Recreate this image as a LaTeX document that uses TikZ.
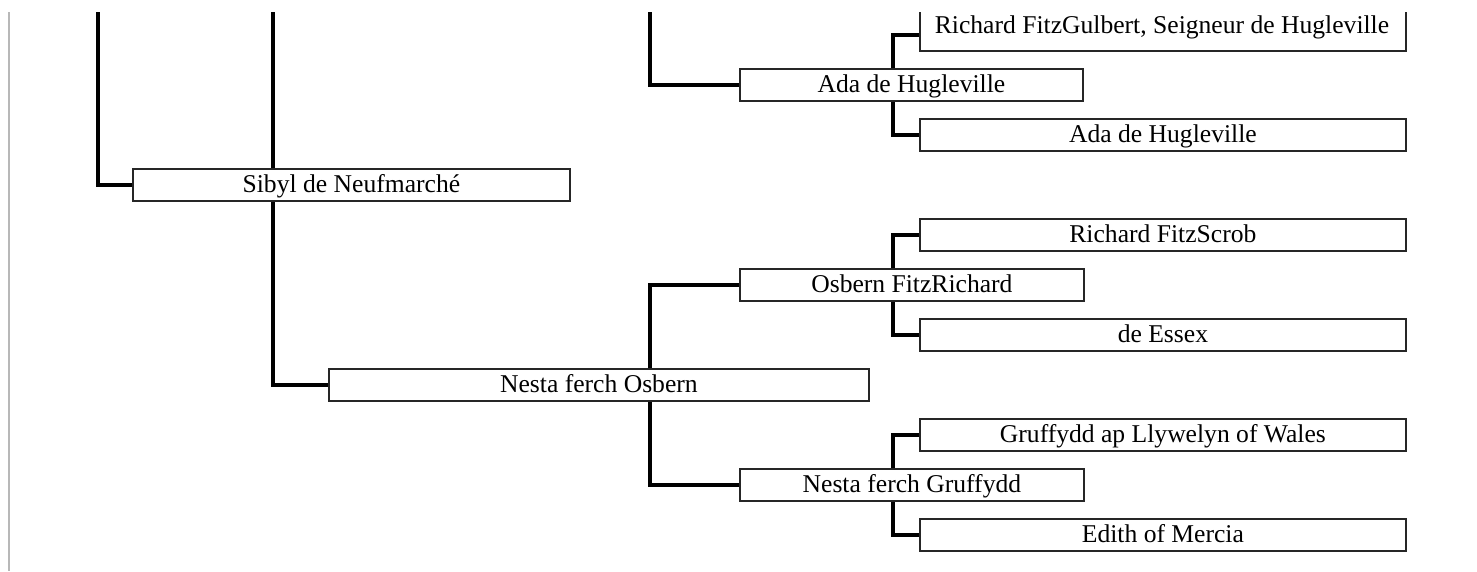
\documentclass[tikz,border=0pt]{standalone}
\usepackage{fontspec}
\setmainfont{Liberation Serif}
\begin{document}
\begin{tikzpicture}[x=1pt,y=-1pt,
  box/.style={draw=black!85, line width=1.8pt, fill=white, rectangle, inner sep=0pt,
    minimum height=32pt, text height=17pt, text depth=3pt,
    font=\fontsize{25.6}{30}\selectfont, anchor=west},
  lbl/.style={inner sep=0pt, font=\fontsize{25.6}{30}\selectfont, anchor=base},
  conn/.style={line width=3.4pt, black}]
\useasboundingbox (0,0) rectangle (1477,571);
\clip (0,12) rectangle (1477,571);
\draw[line width=2pt, black!28] (9,12) -- (9,571);
% free ends of connectors going off the top
\coordinate (t98) at (98,0);
\coordinate (t273) at (273,0);
\coordinate (t650) at (650,0);
\coordinate (c893) at (893,0);
% boxes
\node[box, minimum width=437pt] (sibyl) at (132,185) {Sibyl de Neufmarché};
\node[box, minimum width=540pt] (nesta) at (328,385) {Nesta ferch Osbern};
\node[box, minimum width=343pt] (ada) at (739,85) {Ada de Hugleville};
\node[box, minimum width=344pt] (osbern) at (739,285) {Osbern FitzRichard};
\node[box, minimum width=344pt] (nestag) at (739,485) {Nesta ferch Gruffydd};
\node[box, minimum width=486pt, minimum height=70pt] (rfg) at (919,16) {};
\node[lbl] (rfgtext) at (1162,33) {Richard FitzGulbert, Seigneur de Hugleville};
\coordinate (rfgin) at (919,35);
\node[box, minimum width=486pt] (adaleaf) at (919,135) {Ada de Hugleville};
\node[box, minimum width=486pt] (rfs) at (919,235) {Richard FitzScrob};
\node[box, minimum width=486pt] (essex) at (919,335) {de Essex};
\node[box, minimum width=486pt] (gruff) at (919,435) {Gruffydd ap Llywelyn of Wales};
\node[box, minimum width=486pt] (edith) at (919,535) {Edith of Mercia};
% connectors
\draw[conn] (t98) |- (sibyl.west);
\draw[conn] (t273) -- (t273 |- sibyl.north);
\draw[conn] (t273 |- sibyl.south) |- (nesta.west);
\draw[conn] (t650) |- (ada.west);
\draw[conn] (t650 |- nesta.north) |- (osbern.west);
\draw[conn] (t650 |- nesta.south) |- (nestag.west);
\draw[conn] (c893 |- ada.north) |- (rfgin);
\draw[conn] (c893 |- ada.south) |- (adaleaf.west);
\draw[conn] (c893 |- osbern.north) |- (rfs.west);
\draw[conn] (c893 |- osbern.south) |- (essex.west);
\draw[conn] (c893 |- nestag.north) |- (gruff.west);
\draw[conn] (c893 |- nestag.south) |- (edith.west);
\end{tikzpicture}
\end{document}
